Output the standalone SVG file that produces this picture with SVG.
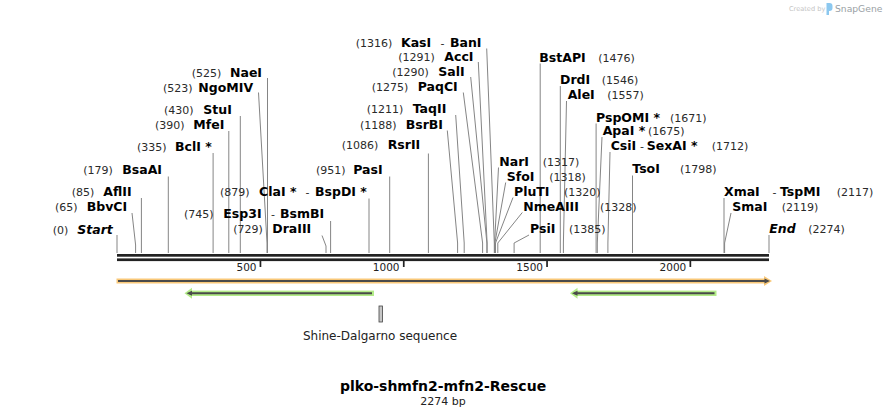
<svg xmlns="http://www.w3.org/2000/svg" width="886" height="417" viewBox="0 0 886 417">
<style>
.n{font-family:"DejaVu Sans",Verdana,sans-serif;font-size:11px;fill:#2a2a2a}
.b{font-family:"DejaVu Sans",Verdana,sans-serif;font-size:12.5px;font-weight:bold;fill:#000}
.bi{font-family:"DejaVu Sans",Verdana,sans-serif;font-size:12.5px;font-weight:bold;font-style:italic;fill:#000}
.t{font-family:"DejaVu Sans",Verdana,sans-serif;font-size:10.5px;fill:#222;text-anchor:end}
.ld{fill:none;stroke:#858585;stroke-width:1}
.gb{fill:#b3ec88}
.ob{fill:#f9c878}
.dk{stroke:#4a4a4a;stroke-width:2}
</style>
<rect width="886" height="417" fill="#fff"/>
<g id="watermark">
<text x="789" y="11" style="font-family:'DejaVu Sans',sans-serif;font-size:6.6px;fill:#c4c4c4">Created by</text>
<path d="M826.5 3 h3 a3 3 0 0 1 3 3 v2 a3 3 0 0 1 -3 3 h-0.5 v4 h-2.5 z" fill="#8cc8ef"/>
<text x="835" y="12" style="font-family:'DejaVu Sans',sans-serif;font-size:9.2px;fill:#9a9fa5">SnapGene</text>
</g>
<g id="connectors">
<polyline class="ld" points="117,235 117,253"/>
<polyline class="ld" points="132,213 135.6,245 135.6,253"/>
<polyline class="ld" points="141.4,198 141.4,253"/>
<polyline class="ld" points="168.3,176.5 168.3,253"/>
<polyline class="ld" points="213.1,153 213.1,253"/>
<polyline class="ld" points="228.8,131 228.8,253"/>
<polyline class="ld" points="240.3,116 240.3,253"/>
<polyline class="ld" points="258.5,92.5 267,243 267,253"/>
<polyline class="ld" points="267.5,78 267.5,253"/>
<polyline class="ld" points="322,235.5 326,246 326,253"/>
<polyline class="ld" points="330.6,221 330.6,253"/>
<polyline class="ld" points="369,198.5 369,253"/>
<polyline class="ld" points="389.7,176.5 389.7,253"/>
<polyline class="ld" points="428.4,153.5 428.4,253"/>
<polyline class="ld" points="447.3,130.5 457.6,243 457.6,253"/>
<polyline class="ld" points="455.7,115 464.2,243 464.2,253"/>
<polyline class="ld" points="463.3,92.5 482.6,243 482.6,253"/>
<polyline class="ld" points="470.7,77 486.9,243 486.9,253"/>
<polyline class="ld" points="478.3,62 487.1,243 487.1,253"/>
<polyline class="ld" points="486.7,48.5 494.3,243 494.3,253"/>
<polyline class="ld" points="498.5,167.5 494.6,243 494.6,253"/>
<polyline class="ld" points="505.7,182.5 494.9,243 494.9,253"/>
<polyline class="ld" points="513,197.5 495.5,243 495.5,253"/>
<polyline class="ld" points="522.3,212.5 497.8,243 497.8,253"/>
<polyline class="ld" points="529,235 514.1,243 514.1,253"/>
<polyline class="ld" points="540.2,63.5 540.2,253"/>
<polyline class="ld" points="560.3,86 560.3,253"/>
<polyline class="ld" points="566.5,101 563.4,243 563.4,253"/>
<polyline class="ld" points="596.1,123.5 596.1,253"/>
<polyline class="ld" points="602,137 597.3,243 597.3,253"/>
<polyline class="ld" points="610,152 607.9,243 607.9,253"/>
<polyline class="ld" points="632.5,175.5 632.5,253"/>
<polyline class="ld" points="724,198 724,253"/>
<polyline class="ld" points="731,213 724.6,243 724.6,253"/>
<polyline class="ld" points="769,235 769,253"/>
</g>
<g id="backbone">
<rect x="117" y="254" width="652" height="2.7" fill="#222"/>
<rect x="117" y="258.4" width="652" height="2.7" fill="#222"/>
<rect x="259.6" y="261" width="1.7" height="6" fill="#222"/>
<rect x="402.9" y="261" width="1.7" height="6" fill="#222"/>
<rect x="546.2" y="261" width="1.7" height="6" fill="#222"/>
<rect x="689.5" y="261" width="1.7" height="6" fill="#222"/>
<text class="t" x="256.5" y="270.7">500</text>
<text class="t" x="399.5" y="270.7">1000</text>
<text class="t" x="543" y="270.7">1500</text>
<text class="t" x="686.3" y="270.7">2000</text>
</g>
<g id="feature-main">
<rect class="ob" x="116.5" y="278.5" width="650" height="5"/>
<polygon class="ob" points="764,276 772,281 764,286"/>
<line class="dk" x1="118" y1="281" x2="766" y2="281"/>
<polygon fill="#4a4a4a" points="764.5,278.5 770,281 764.5,283.5"/>
</g>
<g id="feature-green-1">
<rect class="gb" x="190" y="290.6" width="184" height="5.4"/>
<polygon class="gb" points="184.5,293.3 192,287.8 192,298.8"/>
<line class="dk" x1="189" y1="293.3" x2="372" y2="293.3"/>
<polygon fill="#4a4a4a" points="186.5,293.3 192,290.8 192,295.8"/>
</g>
<g id="feature-green-2">
<rect class="gb" x="575.5" y="290.6" width="141" height="5.4"/>
<polygon class="gb" points="570,293.3 577.5,287.8 577.5,298.8"/>
<line class="dk" x1="574.5" y1="293.3" x2="714.5" y2="293.3"/>
<polygon fill="#4a4a4a" points="572,293.3 577.5,290.8 577.5,295.8"/>
</g>
<g id="shine-dalgarno">
<rect x="379" y="306" width="3.5" height="16" fill="#c6c6c6" stroke="#444" stroke-width="0.8"/>
<text x="380" y="340" text-anchor="middle" style="font-family:'DejaVu Sans',Verdana,sans-serif;font-size:12px;fill:#222">Shine-Dalgarno sequence</text>
</g>
<g id="title">
<text x="443" y="391" text-anchor="middle" style="font-family:'DejaVu Sans',Verdana,sans-serif;font-size:14px;font-weight:bold;fill:#000">plko-shmfn2-mfn2-Rescue</text>
<text x="443" y="405" text-anchor="middle" style="font-family:'DejaVu Sans',Verdana,sans-serif;font-size:11px;fill:#222">2274 bp</text>
</g>
<g id="site-start"><text class="n" x="52.7" y="233.5">(0)</text><text class="bi" x="77.3" y="233.5">Start</text></g>
<g id="site-bbvci"><text class="n" x="55" y="211">(65)</text><text class="b" x="86.7" y="211">BbvCI</text></g>
<g id="site-aflii"><text class="n" x="71.7" y="195.7">(85)</text><text class="b" x="103.3" y="195.7">AflII</text></g>
<g id="site-bsaai"><text class="n" x="83.3" y="174.3">(179)</text><text class="b" x="122.3" y="174.3">BsaAI</text></g>
<g id="site-bcli"><text class="n" x="137" y="150.7">(335)</text><text class="b" x="175" y="150.7">BclI *</text></g>
<g id="site-mfei"><text class="n" x="155" y="128.5">(390)</text><text class="b" x="193.3" y="128.5">MfeI</text></g>
<g id="site-stui"><text class="n" x="164" y="113.5">(430)</text><text class="b" x="203.3" y="113.5">StuI</text></g>
<g id="site-ngomiv"><text class="n" x="163" y="91.7">(523)</text><text class="b" x="198.3" y="91.7">NgoMIV</text></g>
<g id="site-naei"><text class="n" x="191.7" y="76.7">(525)</text><text class="b" x="230" y="76.7">NaeI</text></g>
<g id="site-draiii"><text class="n" x="233.3" y="233.3">(729)</text><text class="b" x="272.3" y="233.3">DraIII</text></g>
<g id="site-esp3i"><text class="n" x="184" y="218.3">(745)</text><text class="b" x="223.3" y="218.3">Esp3I</text><text class="n" x="271" y="218.3">-</text><text class="b" x="280" y="218.3">BsmBI</text></g>
<g id="site-clai"><text class="n" x="220" y="195.7">(879)</text><text class="b" x="259" y="195.7">ClaI *</text><text class="n" x="305.5" y="195.7">-</text><text class="b" x="315" y="195.7">BspDI *</text></g>
<g id="site-pasi"><text class="n" x="316" y="174.3">(951)</text><text class="b" x="353.3" y="174.3">PasI</text></g>
<g id="site-rsrii"><text class="n" x="341.7" y="149.3">(1086)</text><text class="b" x="387.7" y="149.3">RsrII</text></g>
<g id="site-bsrbi"><text class="n" x="360" y="129">(1188)</text><text class="b" x="405.7" y="129">BsrBI</text></g>
<g id="site-taqii"><text class="n" x="366.7" y="113.3">(1211)</text><text class="b" x="412.7" y="113.3">TaqII</text></g>
<g id="site-paqci"><text class="n" x="371.7" y="90.7">(1275)</text><text class="b" x="417.7" y="90.7">PaqCI</text></g>
<g id="site-sali"><text class="n" x="392.3" y="75.7">(1290)</text><text class="b" x="438.3" y="75.7">SalI</text></g>
<g id="site-acci"><text class="n" x="398.3" y="60.7">(1291)</text><text class="b" x="444.3" y="60.7">AccI</text></g>
<g id="site-kasi"><text class="n" x="355.7" y="46.7">(1316)</text><text class="b" x="401" y="46.7">KasI</text><text class="n" x="440.5" y="46.7">-</text><text class="b" x="450" y="46.7">BanI</text></g>
<g id="site-nari"><text class="b" x="499.3" y="165.7">NarI</text><text class="n" x="542.7" y="165.7">(1317)</text></g>
<g id="site-sfoi"><text class="b" x="506.7" y="180.7">SfoI</text><text class="n" x="549.3" y="180.7">(1318)</text></g>
<g id="site-pluti"><text class="b" x="514" y="195.7">PluTI</text><text class="n" x="564" y="195.7">(1320)</text></g>
<g id="site-nmeaiii"><text class="b" x="523.3" y="211">NmeAIII</text><text class="n" x="600" y="211">(1328)</text></g>
<g id="site-psii"><text class="b" x="530" y="233.3">PsiI</text><text class="n" x="569" y="233.3">(1385)</text></g>
<g id="site-bstapi"><text class="b" x="539.3" y="61.7">BstAPI</text><text class="n" x="598.3" y="61.7">(1476)</text></g>
<g id="site-drdi"><text class="b" x="560" y="84.3">DrdI</text><text class="n" x="601.7" y="84.3">(1546)</text></g>
<g id="site-alei"><text class="b" x="567.7" y="99">AleI</text><text class="n" x="607.3" y="99">(1557)</text></g>
<g id="site-pspomi"><text class="b" x="596" y="121.7">PspOMI *</text><text class="n" x="670" y="121.7">(1671)</text></g>
<g id="site-apai"><text class="b" x="602.7" y="135">ApaI *</text><text class="n" x="648" y="135">(1675)</text></g>
<g id="site-csii"><text class="b" x="610.7" y="150">CsiI</text><text class="n" x="640" y="150">-</text><text class="b" x="646.7" y="150">SexAI *</text><text class="n" x="711.7" y="150">(1712)</text></g>
<g id="site-tsoi"><text class="b" x="632.3" y="173.3">TsoI</text><text class="n" x="680" y="173.3">(1798)</text></g>
<g id="site-xmai"><text class="b" x="724" y="195.7">XmaI</text><text class="n" x="772.5" y="195.7">-</text><text class="b" x="780" y="195.7">TspMI</text><text class="n" x="836.7" y="195.7">(2117)</text></g>
<g id="site-smai"><text class="b" x="732.3" y="211">SmaI</text><text class="n" x="781.7" y="211">(2119)</text></g>
<g id="site-end"><text class="bi" x="769.3" y="233.3">End</text><text class="n" x="808.3" y="233.3">(2274)</text></g>
</svg>
